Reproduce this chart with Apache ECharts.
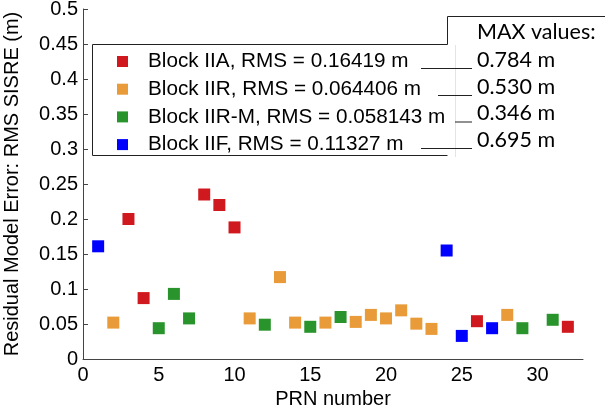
<!DOCTYPE html>
<html>
<head>
<meta charset="utf-8">
<script src="https://cdn.jsdelivr.net/npm/echarts@6/dist/echarts.min.js"></script>
<style>
  html, body { margin: 0; padding: 0; background: #fff; }
  #chart { width: 605px; height: 412px; }
</style>
</head>
<body>
<div id="chart"></div>
<script>
// PRN numbers and residual RMS SISRE (m) per satellite block
const prnIIA = [3, 4, 8, 9, 10, 26, 32];
const valIIA = [0.200, 0.087, 0.235, 0.220, 0.188, 0.054, 0.046];

const prnIIR = [2, 11, 13, 14, 16, 18, 19, 20, 21, 22, 23, 28];
const valIIR = [0.052, 0.058, 0.117, 0.052, 0.052, 0.053, 0.063, 0.058, 0.0695, 0.0505, 0.043, 0.063];

const prnIIRM = [5, 6, 7, 12, 15, 17, 29, 31];
const valIIRM = [0.044, 0.093, 0.058, 0.049, 0.046, 0.060, 0.044, 0.056];

const prnIIF = [1, 24, 25, 27];
const valIIF = [0.161, 0.155, 0.033, 0.044];

const legendNames = [
  "Block IIA, RMS = 0.16419 m",
  "Block IIR, RMS = 0.064406 m",
  "Block IIR-M, RMS = 0.058143 m",
  "Block IIF, RMS = 0.11327 m"
];
const maxValues = ["0.784 m", "0.530 m", "0.346 m", "0.695 m"];
const colors = ["#d0191e", "#e89b38", "#2a942c", "#0000ff"];

const FONT = "Arial, 'Liberation Sans', sans-serif";

const pairs = (xs, ys) => xs.map((x, i) => [x, ys[i]]);
const seriesData = [
  pairs(prnIIA, valIIA),
  pairs(prnIIR, valIIR),
  pairs(prnIIRM, valIIRM),
  pairs(prnIIF, valIIF)
];

const chart = echarts.init(document.getElementById("chart"));

// connector lines from legend text to the MAX values column
const lineStarts = [421, 438, 455, 421];
const rowY = [61, 88, 114.5, 141];
const graphics = [
  {
    type: "polyline",
    shape: { points: [[92.5, 44.5], [447.5, 44.5], [447.5, 16.5], [605, 16.5]] },
    style: { stroke: "#222", lineWidth: 1, fill: null }
  },
  {
    type: "polyline",
    shape: { points: [[92.5, 44.5], [92.5, 155.5], [447.5, 155.5]] },
    style: { stroke: "#222", lineWidth: 1, fill: null }
  },
  {
    type: "line",
    shape: { x1: 455.5, y1: 45, x2: 455.5, y2: 157 },
    style: { stroke: "#e4e4e4", lineWidth: 1 }
  },
  {
    type: "text",
    left: 477, top: 21,
    style: { text: "MAX values:", font: "21.5px Lato", fill: "#000" }
  }
];
maxValues.forEach((t, i) => {
  graphics.push({
    type: "text",
    left: 477, top: rowY[i] - 12,
    style: { text: t, font: "21.5px Lato", fill: "#000" }
  });
  graphics.push({
    type: "line",
    shape: { x1: lineStarts[i], y1: rowY[i] + 7.5, x2: 472, y2: rowY[i] + 7.5 },
    style: { stroke: "#222", lineWidth: 1 }
  });
});

chart.setOption({
  animation: false,
  textStyle: { fontFamily: FONT },
  grid: { left: 83, right: 22, top: 9, bottom: 53, outerBoundsMode: "none", containLabel: false },
  legend: {
    data: legendNames,
    orient: "vertical",
    left: 117,
    top: 51,
    padding: 0,
    itemGap: 6.7,
    itemWidth: 11,
    itemHeight: 11,
    icon: "rect",
    selectedMode: false,
    textStyle: { fontFamily: FONT, fontSize: 20.7, color: "#000", lineHeight: 20, padding: [0, 0, 0, 15] }
  },
  xAxis: {
    type: "value",
    min: 0,
    max: 33,
    interval: 5,
    name: "PRN number",
    nameLocation: "middle",
    nameGap: 30,
    nameTextStyle: { fontFamily: FONT, fontSize: 20, color: "#000" },
    axisLine: { lineStyle: { color: "#444" } },
    axisTick: { show: false },
    splitLine: { show: false },
    axisLabel: {
      fontFamily: FONT, fontSize: 20, color: "#000", margin: 6,
      formatter: v => (v % 5 === 0 ? String(v) : "")
    }
  },
  yAxis: {
    type: "value",
    min: 0,
    max: 0.5,
    interval: 0.05,
    name: "Residual Model Error: RMS SISRE (m)",
    nameLocation: "middle",
    nameRotate: 90,
    nameGap: 61,
    nameTextStyle: { fontFamily: FONT, fontSize: 20, color: "#000" },
    axisLine: { show: true, lineStyle: { color: "#444" } },
    axisTick: { show: true, inside: true, length: 5, lineStyle: { color: "#444" } },
    splitLine: { show: false },
    axisLabel: { fontFamily: FONT, fontSize: 20, color: "#000", margin: 5 }
  },
  series: seriesData.map((d, i) => ({
    name: legendNames[i],
    type: "scatter",
    symbol: "rect",
    symbolSize: 12,
    itemStyle: { color: colors[i], opacity: 1 },
    data: d
  })),
  graphic: graphics
});
</script>
</body>
</html>
